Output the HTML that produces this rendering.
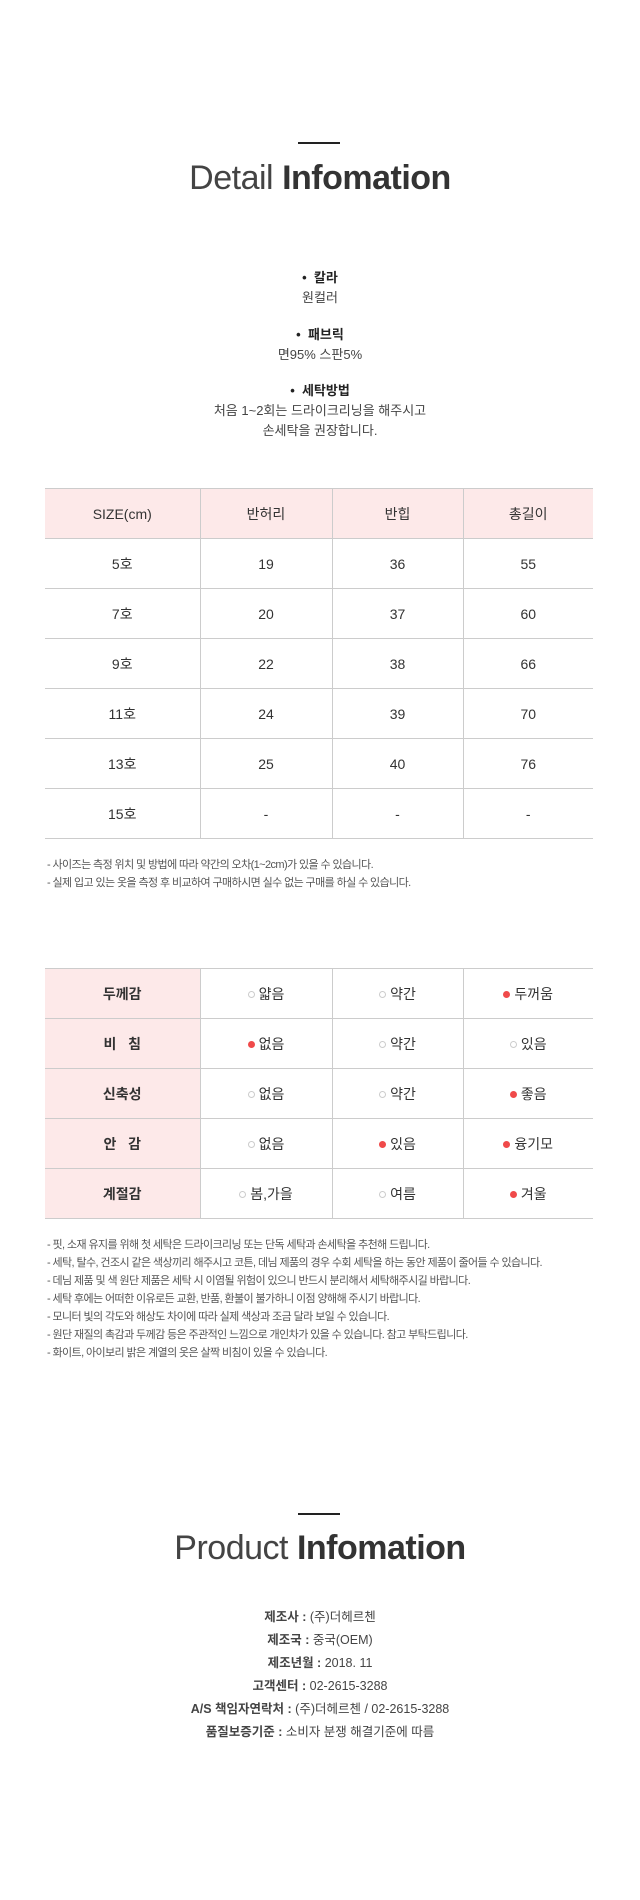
<!DOCTYPE html>
<html><head><meta charset="utf-8">
<style>
*{margin:0;padding:0;box-sizing:border-box}
body{width:640px;height:1900px;background:#fff;position:relative;font-family:"Liberation Sans","Noto Sans CJK KR",sans-serif;color:#333;overflow:hidden}
.abs{position:absolute;left:0;width:640px;text-align:center}
.bar{position:absolute;left:298px;width:42px;height:2px;background:#222}
.title{font-size:34px;letter-spacing:-0.5px;color:#333;line-height:40px}
.title b{font-weight:700}
.title span{font-weight:300;color:#444}
.t{font-size:13px;line-height:20px;color:#444}
.t b{color:#222}
table{position:absolute;left:45px;width:548px;border-collapse:collapse;font-size:14px;color:#333}
td{border-top:1px solid #ccc;border-bottom:1px solid #ccc;text-align:center;height:50px;padding:0}
td+td{border-left:1px solid #ccc}
.hd td{background:#fde9e9}
.c1{width:155px}.c2{width:132px}.c3{width:131px}.c4{width:130px}
.lab{background:#fde9e9;font-weight:700;color:#333}
.o,.f{display:inline-block;width:7px;height:7px;border-radius:50%;margin-right:4px;vertical-align:1px}
.o{border:1px solid #ccc}
.f{background:#f04a4a}
.note{position:absolute;left:47px;font-size:11px;line-height:18px;color:#555;letter-spacing:-0.6px;white-space:nowrap}
.p{font-size:12.5px;line-height:23px;color:#444}
</style></head><body>
<div class="bar" style="top:142px"></div>
<div class="abs title" style="top:158px"><span>Detail</span> <b>Infomation</b></div>

<div class="abs t" style="top:268px"><b>• &nbsp;칼라</b><br>원컬러</div>
<div class="abs t" style="top:325px"><b>• &nbsp;패브릭</b><br>면95% 스판5%</div>
<div class="abs t" style="top:381px"><b>• &nbsp;세탁방법</b><br>처음 1~2회는 드라이크리닝을 해주시고<br>손세탁을 권장합니다.</div>

<table style="top:488px">
<tr class="hd"><td class="c1" style="height:49px">SIZE(cm)</td><td class="c2">반허리</td><td class="c3">반힙</td><td class="c4">총길이</td></tr>
<tr><td>5호</td><td>19</td><td>36</td><td>55</td></tr>
<tr><td>7호</td><td>20</td><td>37</td><td>60</td></tr>
<tr><td>9호</td><td>22</td><td>38</td><td>66</td></tr>
<tr><td>11호</td><td>24</td><td>39</td><td>70</td></tr>
<tr><td>13호</td><td>25</td><td>40</td><td>76</td></tr>
<tr><td>15호</td><td>-</td><td>-</td><td>-</td></tr>
</table>
<div class="note" style="top:856px">- 사이즈는 측정 위치 및 방법에 따라 약간의 오차(1~2cm)가 있을 수 있습니다.<br>- 실제 입고 있는 옷을 측정 후 비교하여 구매하시면 실수 없는 구매를 하실 수 있습니다.</div>

<table style="top:968px">
<tr><td class="c1 lab">두께감</td><td class="c2"><i class="o"></i>얇음</td><td class="c3"><i class="o"></i>약간</td><td class="c4"><i class="f"></i>두꺼움</td></tr>
<tr><td class="lab">비 &nbsp;&nbsp;침</td><td><i class="f"></i>없음</td><td><i class="o"></i>약간</td><td><i class="o"></i>있음</td></tr>
<tr><td class="lab">신축성</td><td><i class="o"></i>없음</td><td><i class="o"></i>약간</td><td><i class="f"></i>좋음</td></tr>
<tr><td class="lab">안 &nbsp;&nbsp;감</td><td><i class="o"></i>없음</td><td><i class="f"></i>있음</td><td><i class="f"></i>융기모</td></tr>
<tr><td class="lab">계절감</td><td><i class="o"></i>봄,가을</td><td><i class="o"></i>여름</td><td><i class="f"></i>겨울</td></tr>
</table>
<div class="note" style="top:1236px">- 핏, 소재 유지를 위해 첫 세탁은 드라이크리닝 또는 단독 세탁과 손세탁을 추천해 드립니다.<br>- 세탁, 탈수, 건조시 같은 색상끼리 해주시고 코튼, 데님 제품의 경우 수회 세탁을 하는 동안 제품이 줄어들 수 있습니다.<br>- 데님 제품 및 색 원단 제품은 세탁 시 이염될 위험이 있으니 반드시 분리해서 세탁해주시길 바랍니다.<br>- 세탁 후에는 어떠한 이유로든 교환, 반품, 환불이 불가하니 이점 양해해 주시기 바랍니다.<br>- 모니터 빛의 각도와 해상도 차이에 따라 실제 색상과 조금 달라 보일 수 있습니다.<br>- 원단 재질의 촉감과 두께감 등은 주관적인 느낌으로 개인차가 있을 수 있습니다. 참고 부탁드립니다.<br>- 화이트, 아이보리 밝은 계열의 옷은 살짝 비침이 있을 수 있습니다.</div>

<div class="bar" style="top:1513px"></div>
<div class="abs title" style="top:1528px"><span>Product</span> <b>Infomation</b></div>
<div class="abs p" style="top:1606px">
<b>제조사 :</b> (주)더헤르첸<br>
<b>제조국 :</b> 중국(OEM)<br>
<b>제조년월 :</b> 2018. 11<br>
<b>고객센터 :</b> 02-2615-3288<br>
<b>A/S 책임자연락처 :</b> (주)더헤르첸 / 02-2615-3288<br>
<b>품질보증기준 :</b> 소비자 분쟁 해결기준에 따름
</div>
</body></html>
